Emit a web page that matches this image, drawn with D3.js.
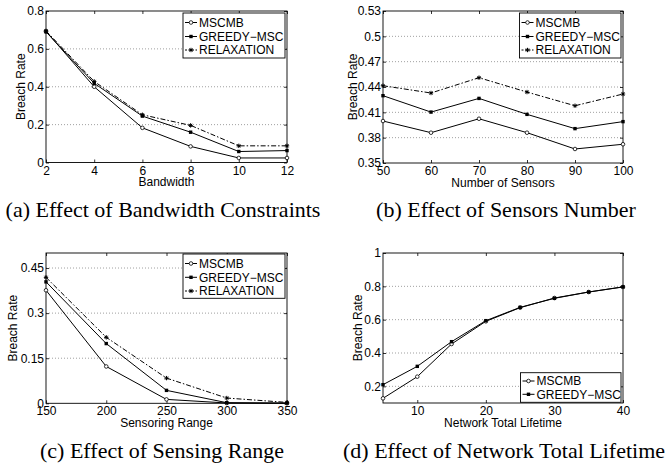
<!DOCTYPE html>
<html>
<head>
<meta charset="utf-8">
<script src="https://cdn.jsdelivr.net/npm/d3@7"></script>
<style>
  body { margin: 0; background: #fff; }
  svg { display: block; }
</style>
</head>
<body>
<script>
// ---- data ----
const bandwidth = [2, 4, 6, 8, 10, 12];
const bwMSCMB  = [0.693, 0.400, 0.183, 0.085, 0.024, 0.024];
const bwGreedy = [0.690, 0.418, 0.245, 0.160, 0.058, 0.063];
const bwRelax  = [0.695, 0.428, 0.252, 0.196, 0.088, 0.088];

const sensors = [50, 60, 70, 80, 90, 100];
const snMSCMB  = [0.3997, 0.3859, 0.4024, 0.3859, 0.3666, 0.3722];
const snGreedy = [0.4297, 0.4103, 0.4265, 0.4076, 0.3907, 0.3990];
const snRelax  = [0.4415, 0.4329, 0.4510, 0.4340, 0.4178, 0.4317];

const sensRange = [150, 200, 250, 300, 350];
const rgMSCMB  = [0.376, 0.1225, 0.013, 0.001, 0.000];
const rgGreedy = [0.404, 0.1987, 0.043, 0.002, 0.001];
const rgRelax  = [0.419, 0.2195, 0.0838, 0.0175, 0.003];

const lifetime = [5, 10, 15, 20, 25, 30, 35, 40];
const ltMSCMB  = [0.128, 0.258, 0.454, 0.590, 0.672, 0.730, 0.766, 0.796];
const ltGreedy = [0.210, 0.320, 0.468, 0.594, 0.674, 0.728, 0.766, 0.797];

const seriesNames = ["MSCMB", "GREEDY\u2212MSC", "RELAXATION"];

const bwXTicks = [2, 4, 6, 8, 10, 12],      bwYTicks = [0, 0.2, 0.4, 0.6, 0.8];
const snXTicks = [50, 60, 70, 80, 90, 100], snYTicks = [0.35, 0.38, 0.41, 0.44, 0.47, 0.5, 0.53];
const rgXTicks = [150, 200, 250, 300, 350], rgYTicks = [0, 0.15, 0.3, 0.45];
const ltXTicks = [10, 20, 30, 40],          ltYTicks = [0.2, 0.4, 0.6, 0.8, 1];

const captions = [
  "(a) Effect of Bandwidth Constraints",
  "(b) Effect of Sensors Number",
  "(c) Effect of Sensing Range",
  "(d) Effect of Network Total Lifetime"
];

const W = 668, H = 470;
const sans = "'Liberation Sans', Arial, Helvetica, sans-serif";
const serif = "'Liberation Serif', 'Times New Roman', serif";

const svg = d3.select("body").append("svg").attr("width", W).attr("height", H);

const styles = [
  { marker: "circle", dash: null },
  { marker: "square", dash: null },
  { marker: "star",   dash: "5,2,1.5,2" }
];

function drawMarker(g, kind, cx, cy) {
  if (kind === "circle") {
    g.append("circle").attr("cx", cx).attr("cy", cy).attr("r", 1.8)
      .attr("fill", "#fff").attr("stroke", "#000").attr("stroke-width", 0.8);
  } else if (kind === "square") {
    g.append("rect").attr("x", cx - 1.7).attr("y", cy - 1.7).attr("width", 3.4).attr("height", 3.4)
      .attr("fill", "#000");
  } else {
    const r = 2.2, d = r * 0.7;
    g.append("path")
      .attr("d", `M${cx - r},${cy}H${cx + r}M${cx},${cy - r}V${cy + r}M${cx - d},${cy - d}L${cx + d},${cy + d}M${cx - d},${cy + d}L${cx + d},${cy - d}`)
      .attr("stroke", "#000").attr("stroke-width", 1);
  }
}

function panel(p) {
  const x = d3.scaleLinear().domain(p.xDomain).range([p.left, p.right]);
  const y = d3.scaleLinear().domain(p.yDomain).range([p.bottom, p.top]);
  const g = svg.append("g");

  // dotted horizontal grid
  g.selectAll(".grid")
    .data(p.yTicks.filter(t => t > p.yDomain[0] + 1e-9 && t < p.yDomain[1] - 1e-9))
    .join("line")
    .attr("x1", p.left).attr("x2", p.right)
    .attr("y1", d => y(d)).attr("y2", d => y(d))
    .attr("stroke", "#777").attr("stroke-width", 0.7).attr("stroke-dasharray", "1,2");

  const fmt = d3.format("~g");
  const axes = [
    g.append("g").attr("transform", `translate(0,${p.bottom})`)
      .call(d3.axisBottom(x).tickValues(p.xTicks).tickSize(-3).tickPadding(3.5).tickFormat(fmt)),
    g.append("g").attr("transform", `translate(0,${p.top})`)
      .call(d3.axisTop(x).tickValues(p.xTicks).tickSize(-3).tickFormat("")),
    g.append("g").attr("transform", `translate(${p.left},0)`)
      .call(d3.axisLeft(y).tickValues(p.yTicks).tickSize(-3).tickPadding(2).tickFormat(fmt)),
    g.append("g").attr("transform", `translate(${p.right},0)`)
      .call(d3.axisRight(y).tickValues(p.yTicks).tickSize(-3).tickFormat(""))
  ];
  axes.forEach(a => {
    a.select(".domain").remove();
    a.selectAll("line").attr("stroke", "#000").attr("stroke-width", 0.8);
    a.selectAll("text").attr("fill", "#000").style("font-family", sans).style("font-size", "12px");
  });

  // frame
  g.append("rect").attr("x", p.left).attr("y", p.top)
    .attr("width", p.right - p.left).attr("height", p.bottom - p.top)
    .attr("fill", "none").attr("stroke", "#000").attr("stroke-width", 0.9);

  // series
  const line = d3.line().x(d => x(d[0])).y(d => y(d[1]));
  p.series.forEach((vals, i) => {
    const pts = p.xs.map((xv, j) => [xv, vals[j]]);
    g.append("path").datum(pts).attr("d", line)
      .attr("fill", "none").attr("stroke", "#000").attr("stroke-width", 1)
      .attr("stroke-dasharray", styles[i].dash);
    pts.forEach(pt => drawMarker(g, styles[i].marker, x(pt[0]), y(pt[1])));
  });

  // axis labels
  g.append("text").attr("x", (p.left + p.right) / 2).attr("y", p.bottom + 23.5)
    .attr("text-anchor", "middle").style("font-family", sans).style("font-size", "12px")
    .text(p.xLabel);
  g.append("text")
    .attr("transform", `translate(${p.left - p.yLabelOff},${(p.top + p.bottom) / 2}) rotate(-90)`)
    .attr("text-anchor", "middle").style("font-family", sans).style("font-size", "12px")
    .text("Breach Rate");

  // legend
  const L = p.legend;
  const lg = g.append("g");
  lg.append("rect").attr("x", L.x0).attr("y", L.y0).attr("width", L.x1 - L.x0).attr("height", L.y1 - L.y0)
    .attr("fill", "#fff").attr("stroke", "#000").attr("stroke-width", 0.9);
  p.series.forEach((vals, i) => {
    const ly = L.rows[i];
    lg.append("line").attr("x1", L.x0 + 2).attr("x2", L.x0 + 14).attr("y1", ly).attr("y2", ly)
      .attr("stroke", "#000").attr("stroke-width", 1).attr("stroke-dasharray", styles[i].dash ? "2,1.5" : null);
    drawMarker(lg, styles[i].marker, L.x0 + 8, ly);
    lg.append("text").attr("x", L.x0 + 16).attr("y", ly).attr("dy", "0.36em")
      .style("font-family", sans).style("font-size", "12px").text(seriesNames[i]);
  });

  // caption
  svg.append("text").attr("x", p.capX).attr("y", p.capY).attr("text-anchor", "middle")
    .style("font-family", serif).style("font-size", "22px").text(p.caption);
}

panel({
  left: 46, right: 287, top: 11, bottom: 162.5,
  xDomain: [2, 12], yDomain: [0, 0.8], xTicks: bwXTicks, yTicks: bwYTicks,
  xs: bandwidth, series: [bwMSCMB, bwGreedy, bwRelax],
  xLabel: "Bandwidth", yLabelOff: 21,
  legend: { x0: 183, x1: 285, y0: 13, y1: 58, rows: [22.5, 36.5, 50] },
  caption: captions[0], capX: 163, capY: 217
});

panel({
  left: 383, right: 623, top: 11, bottom: 163,
  xDomain: [50, 100], yDomain: [0.35, 0.53], xTicks: snXTicks, yTicks: snYTicks,
  xs: sensors, series: [snMSCMB, snGreedy, snRelax],
  xLabel: "Number of Sensors", yLabelOff: 26.5,
  legend: { x0: 519.5, x1: 621, y0: 13, y1: 58, rows: [22.5, 36.5, 50] },
  caption: captions[1], capX: 506, capY: 217
});

panel({
  left: 46, right: 287, top: 253, bottom: 403.3,
  xDomain: [150, 350], yDomain: [0, 0.5], xTicks: rgXTicks, yTicks: rgYTicks,
  xs: sensRange, series: [rgMSCMB, rgGreedy, rgRelax],
  xLabel: "Sensoring Range", yLabelOff: 29,
  legend: { x0: 183, x1: 285, y0: 254, y1: 298.3, rows: [263.5, 277.3, 291] },
  caption: captions[2], capX: 162, capY: 458
});

panel({
  left: 383, right: 623, top: 253, bottom: 403,
  xDomain: [5, 40], yDomain: [0.1, 1], xTicks: ltXTicks, yTicks: ltYTicks,
  xs: lifetime, series: [ltMSCMB, ltGreedy],
  xLabel: "Network Total Lifetime", yLabelOff: 21,
  legend: { x0: 520.5, x1: 621, y0: 372.7, y1: 402.3, rows: [381, 394.3] },
  caption: captions[3], capX: 504, capY: 458
});
</script>
</body>
</html>
